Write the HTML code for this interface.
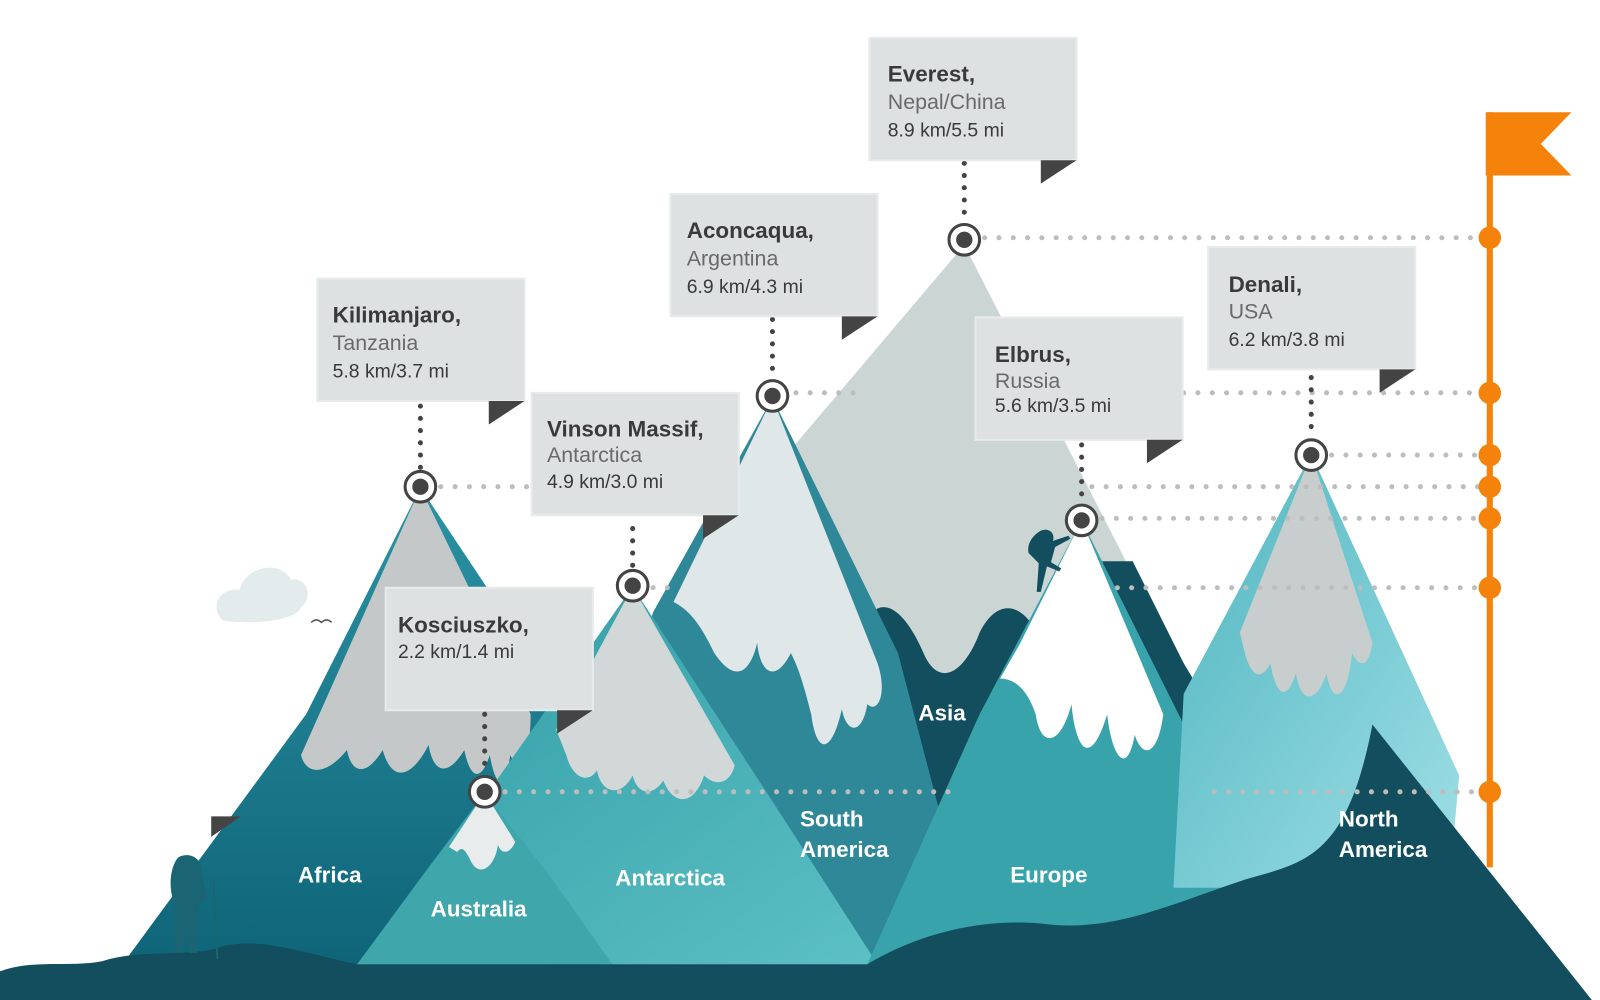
<!DOCTYPE html>
<html><head><meta charset="utf-8"><style>
html,body{margin:0;padding:0;background:#fff;width:1600px;height:1000px;overflow:hidden}
svg{display:block}
.t{font-family:"Liberation Sans",sans-serif;font-weight:bold;font-size:22px;fill:#3a3a3a}
.c{font-family:"Liberation Sans",sans-serif;font-size:21px;fill:#6a6a6a}
.s{font-family:"Liberation Sans",sans-serif;font-size:19px;fill:#3a3a3a}
.w{font-family:"Liberation Sans",sans-serif;font-weight:bold;font-size:22px;fill:#fff}
</style></head><body>
<svg width="1600" height="1000" viewBox="0 0 1568 980" xmlns="http://www.w3.org/2000/svg">
<defs>
<linearGradient id="af" x1="0" y1="0" x2="0" y2="1"><stop offset="0" stop-color="#2a93a3"/><stop offset="1" stop-color="#0f6478"/></linearGradient>
<linearGradient id="na" x1="0" y1="0" x2="1" y2="1"><stop offset="0" stop-color="#4fb5bf"/><stop offset="1" stop-color="#9fdfe6"/></linearGradient>
<linearGradient id="an" x1="0" y1="0" x2="1" y2="1"><stop offset="0" stop-color="#2f9aa3"/><stop offset="1" stop-color="#5cc0c5"/></linearGradient>
</defs>
<!-- cloud -->
<path d="M218,608 C205,595 215,575 235,578 C240,555 275,548 285,568 C300,565 308,585 295,595 C290,610 240,612 218,608 Z" fill="#e3ebec"/>
<path d="M305,610 q5,-5 10,0 q5,-5 10,0" stroke="#555" stroke-width="1.5" fill="none"/>
<!-- Everest / Asia -->
<path d="M945,240 L1180,700 L880,780 L640,600 Z" fill="#cad5d4"/>
<path d="M790,780 L855,600 C870,585 890,605 905,640 C920,675 945,660 960,620 C975,590 995,590 1010,610 L1060,555 L1100,550 L1190,700 L940,800 Z" fill="#124e5e"/>
<!-- Aconcagua / South America -->
<path d="M757,390 L880,640 L960,945 L540,945 L640,600 Z" fill="#2f8898"/>
<path d="M757,390 L860,650 C870,680 860,700 850,690 C845,720 830,720 825,695 C815,740 800,740 795,700 C785,660 780,650 775,640 C760,670 745,660 742,630 C735,660 720,670 700,640 C690,620 680,600 660,590 Z" fill="#dfe7e8"/>
<!-- Kilimanjaro / Africa -->
<path d="M412,478 L560,700 L590,945 L120,945 L300,700 Z" fill="url(#af)"/>
<path d="M412,478 L520,700 C520,740 510,760 500,740 C495,780 485,770 480,740 C470,770 460,760 455,735 C440,760 425,760 420,730 C405,760 385,770 375,735 C360,760 345,760 340,735 C320,760 300,760 295,740 Z" fill="#c4c8c9"/>
<!-- Vinson / Antarctica -->
<path d="M620,575 L760,790 L860,945 L350,945 L490,760 Z" fill="url(#an)"/>
<path d="M620,575 L720,750 C715,770 700,770 690,760 C680,790 660,790 650,765 C640,780 625,780 620,760 C610,780 590,780 585,755 C575,770 560,760 555,740 L545,715 Z" fill="#d2d8d8"/>
<!-- Kosciuszko / Australia -->
<path d="M475,777 L540,860 L600,945 L350,945 L420,850 Z" fill="#3fa6ac"/>
<path d="M475,777 L505,825 C498,840 490,835 488,828 C485,850 470,860 462,845 C455,830 452,830 448,835 L440,830 Z" fill="#e8eced"/>
<!-- Elbrus / Europe -->
<path d="M1060,510 L1240,870 L1150,945 L850,945 L960,700 Z" fill="#38a3aa"/>
<path d="M1060,510 L1140,700 C1135,740 1120,745 1112,720 C1105,760 1090,745 1085,700 C1070,750 1055,740 1050,690 C1040,730 1020,735 1015,700 C1005,670 990,665 980,665 L1000,630 Z" fill="#ffffff"/>
<path d="M1080,550 L1110,550 L1180,690 L1160,700 Z" fill="#124e5e"/>
<!-- Denali / North America -->
<path d="M1285,445 L1430,760 L1420,870 L1150,870 L1160,680 Z" fill="url(#na)"/>
<path d="M1285,445 L1345,630 C1340,660 1330,650 1325,640 C1320,690 1305,690 1300,660 C1290,690 1275,690 1270,660 C1260,690 1250,680 1245,650 C1235,670 1225,660 1220,640 L1215,620 Z" fill="#c8cece"/>
<!-- ground -->
<path d="M0,980 L0,952 C30,940 70,948 100,942 C140,930 170,938 210,930 C250,915 300,935 350,945 L850,945 C900,915 960,900 1020,905 C1090,915 1150,885 1220,862 C1280,845 1320,840 1345,710 L1560,980 Z" fill="#124e5e"/>
<!-- climber & hiker -->
<path d="M1020,520 c8,-3 14,2 12,10 l15,-5 l2,3 l-15,8 l-4,15 l10,6 l-2,3 l-12,-5 l-6,25 l-4,0 l2,-28 l-10,-10 c-2,-10 5,-18 12,-22 z" fill="#124e5e"/>
<path d="M175,840 c10,-5 22,0 22,12 l6,30 l-8,2 l-2,50 l-8,0 l-2,-30 l-4,30 l-8,0 l0,-50 c-6,-10 -5,-35 4,-44 z" fill="#1a6474"/>
<path d="M209,860 l4,80" stroke="#1a6474" stroke-width="2"/>
<path d="M207,800 L236,800 L207,820 Z" fill="#444"/>
<!-- continent labels -->
<text class="w" x="292" y="865">Africa</text>
<text class="w" x="422" y="898">Australia</text>
<text class="w" x="603" y="868">Antarctica</text>
<text class="w" x="784" y="810">South</text><text class="w" x="784" y="840">America</text>
<text class="w" x="900" y="706">Asia</text>
<text class="w" x="990" y="865">Europe</text>
<text class="w" x="1312" y="810">North</text><text class="w" x="1312" y="840">America</text>
<!-- dotted horizontals -->
<g stroke="#bdbdbd" stroke-width="5" stroke-linecap="round" stroke-dasharray="0 14" fill="none">
<path d="M965,233 H1460"/><path d="M780,385 H840"/><path d="M1160,385 H1460"/>
<path d="M1305,446 H1460"/><path d="M432,477 H520"/><path d="M1070,477 H1460"/>
<path d="M1080,508 H1460"/><path d="M640,576 H660"/><path d="M1095,576 H1460"/>
<path d="M495,776 H930"/><path d="M1190,776 H1460"/>
</g>
<!-- pole & flag -->
<rect x="1457" y="110" width="6" height="740" fill="#f5820a"/>
<path d="M1456,110 L1540,110 L1510,141 L1540,172 L1456,172 Z" fill="#f5820a"/>
<g fill="#f5820a"><circle cx="1460" cy="233" r="11"/><circle cx="1460" cy="385" r="11"/><circle cx="1460" cy="446" r="11"/><circle cx="1460" cy="477" r="11"/><circle cx="1460" cy="508" r="11"/><circle cx="1460" cy="576" r="11"/><circle cx="1460" cy="776" r="11"/></g>
<!-- vertical dotted -->
<g stroke="#444" stroke-width="5" stroke-linecap="round" stroke-dasharray="0 12" fill="none">
<path d="M945,160 V215"/><path d="M757,313 V370"/><path d="M412,398 V460"/><path d="M620,518 V558"/><path d="M475,700 V760"/><path d="M1060,436 V492"/><path d="M1285,370 V428"/>
</g>
<!-- markers -->
<g fill="#fff" stroke="#444" stroke-width="3">
<circle cx="945" cy="235" r="15"/><circle cx="757" cy="388" r="15"/><circle cx="412" cy="477" r="15"/><circle cx="620" cy="574" r="15"/><circle cx="475" cy="776" r="15"/><circle cx="1060" cy="510" r="15"/><circle cx="1285" cy="446" r="15"/>
</g>
<g fill="#444"><circle cx="945" cy="235" r="8"/><circle cx="757" cy="388" r="8"/><circle cx="412" cy="477" r="8"/><circle cx="620" cy="574" r="8"/><circle cx="475" cy="776" r="8"/><circle cx="1060" cy="510" r="8"/><circle cx="1285" cy="446" r="8"/></g>
<!-- boxes -->
<g fill="#dde1e1" stroke="#e8ebeb" stroke-width="2">
<rect x="852" y="37" width="203" height="120"/><rect x="657" y="190" width="203" height="120"/><rect x="311" y="273" width="203" height="120"/><rect x="521" y="385" width="203" height="120"/><rect x="378" y="576" width="203" height="120"/><rect x="956" y="311" width="203" height="120"/><rect x="1184" y="242" width="203" height="120"/>
</g>
<g fill="#444">
<path d="M1020,157 L1055,157 L1020,180 Z"/><path d="M825,310 L860,310 L825,333 Z"/><path d="M479,393 L514,393 L479,416 Z"/><path d="M689,505 L724,505 L689,528 Z"/><path d="M546,696 L581,696 L546,719 Z"/><path d="M1124,431 L1159,431 L1124,454 Z"/><path d="M1352,362 L1387,362 L1352,385 Z"/>
</g>
<text class="t" x="870" y="80">Everest,</text><text class="c" x="870" y="107">Nepal/China</text><text class="s" x="870" y="134">8.9 km/5.5 mi</text>
<text class="t" x="673" y="233">Aconcaqua,</text><text class="c" x="673" y="260">Argentina</text><text class="s" x="673" y="287">6.9 km/4.3 mi</text>
<text class="t" x="326" y="316">Kilimanjaro,</text><text class="c" x="326" y="343">Tanzania</text><text class="s" x="326" y="370">5.8 km/3.7 mi</text>
<text class="t" x="536" y="428">Vinson Massif,</text><text class="c" x="536" y="453">Antarctica</text><text class="s" x="536" y="478">4.9 km/3.0 mi</text>
<text class="t" x="390" y="620">Kosciuszko,</text><text class="s" x="390" y="645">2.2 km/1.4 mi</text>
<text class="t" x="975" y="355">Elbrus,</text><text class="c" x="975" y="380">Russia</text><text class="s" x="975" y="404">5.6 km/3.5 mi</text>
<text class="t" x="1204" y="286">Denali,</text><text class="c" x="1204" y="312">USA</text><text class="s" x="1204" y="339">6.2 km/3.8 mi</text>
</svg>
</body></html>
